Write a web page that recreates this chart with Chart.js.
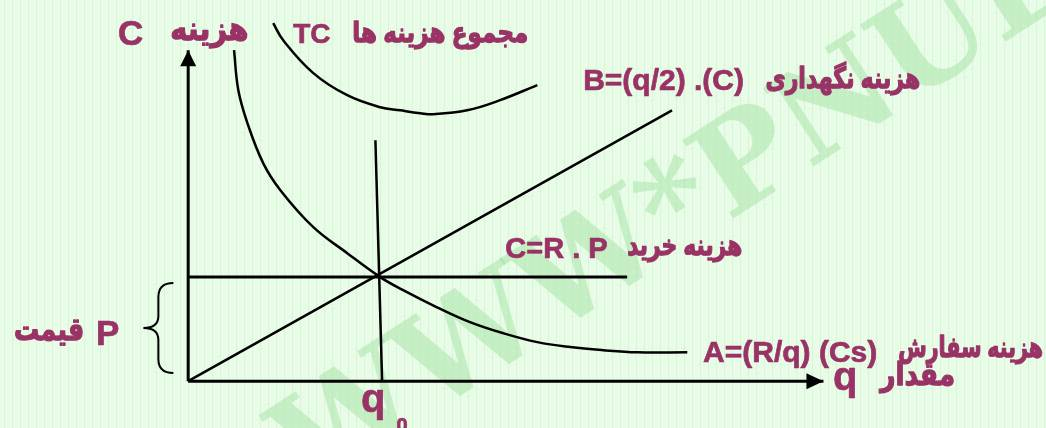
<!DOCTYPE html>
<html>
<head>
<meta charset="utf-8">
<script src="https://cdn.jsdelivr.net/npm/chart.js@4.4.0/dist/chart.umd.min.js"></script>
<style>
  html, body { margin: 0; padding: 0; background: #e8fce8; }
  #costChart { display: block; }
</style>
</head>
<body>
<canvas id="costChart" width="1046" height="428"></canvas>
<script>
// ordering cost A = (R/q)(Cs)
const orderQ = [0.96, 1.05, 1.24, 1.57, 1.93, 2.62, 3.33, 4.02, 4.5, 5.21, 5.9, 6.6, 7.31, 8.0, 8.69, 9.4, 10.45];
const orderCost = [12.72, 11.18, 9.92, 8.38, 7.34, 5.92, 4.92, 4.0, 3.5, 2.84, 2.27, 1.84, 1.5, 1.31, 1.19, 1.11, 1.11];

// total cost TC
const totalQ = [1.78, 1.99, 2.62, 3.33, 4.02, 4.44, 4.86, 5.13, 5.84, 6.53, 7.31];
const totalCost = [13.76, 13.1, 11.84, 10.99, 10.53, 10.41, 10.3, 10.26, 10.41, 10.8, 11.38];

// holding cost B = (q/2)(C)
const holdQ = [0, 10.13];
const holdCost = [0, 10.41];

// purchase cost C = R . P
const purchaseQ = [0, 9.19];
const purchaseCost = [4, 4];

// optimal quantity q0
const optimalQ = [3.92, 4.06];
const optimalCost = [9.26, 0];

// axes
const costAxisQ = [0, 0];
const costAxisValues = [0, 12.72];
const qAxisQ = [0, 13.3];
const qAxisValues = [0, 0];

// price brace P (from top to bottom)
const priceBrace = [3.77, 0.31];

var textColor = "#993366";
var fontStack = "'Liberation Sans', Arial, 'DejaVu Sans', sans-serif";

var labels = [
  { text: "C", x: -1.47, y: 12.91, size: 35, align: "left" },
  { text: "هزینه", x: 1.26, y: 13.11, size: 33, align: "right", width: 78 },
  { text: "TC", x: 2.2, y: 12.99, size: 28, align: "left" },
  { text: "مجموع هزینه ها", x: 7.12, y: 13.03, size: 28, align: "right", width: 176 },
  { text: "B=(q/2) .(C)", x: 8.27, y: 11.18, size: 30, align: "left" },
  { text: "هزینه نگهداری", x: 15.33, y: 11.26, size: 29, align: "right", width: 155 },
  { text: "C=R . P", x: 6.64, y: 4.73, size: 29, align: "left" },
  { text: "هزینه خرید", x: 11.6, y: 4.84, size: 29, align: "right", width: 115 },
  { text: "A=(R/q) (Cs)", x: 10.78, y: 0.73, size: 30, align: "left" },
  { text: "هزینه سفارش", x: 17.9, y: 0.92, size: 29, align: "right", width: 145 },
  { text: "q", x: 13.5, y: -0.35, size: 40, align: "left" },
  { text: "مقدار", x: 16.06, y: -0.15, size: 31, align: "right", width: 75 },
  { text: "q", x: 3.62, y: -1.19, size: 40, align: "left" },
  { text: "0", x: 4.36, y: -1.96, size: 20, align: "left" },
  { text: "P", x: -1.93, y: 1.38, size: 35, align: "left" },
  { text: "قیمت", x: -2.18, y: 1.58, size: 31, align: "right", width: 70 },
];

function toPoints(xs, ys) {
  return xs.map(function (x, i) {
    return { x: x, y: ys[i] };
  });
}

function lineSet(xs, ys, width, smooth) {
  return {
    data: toPoints(xs, ys),
    showLine: true,
    borderColor: "#000000",
    borderWidth: width,
    pointRadius: 0,
    fill: false,
    tension: smooth ? 0.4 : 0,
  };
}

var backgroundPlugin = {
  id: "paper",
  beforeDraw: function (chart) {
    var ctx = chart.ctx;
    var w = chart.width;
    var h = chart.height;
    ctx.save();
    ctx.fillStyle = "#e8fce8";
    ctx.fillRect(0, 0, w, h);
    ctx.lineWidth = 1;
    ctx.strokeStyle = "rgba(190, 238, 190, 0.4)";
    for (var gx = 4.5; gx < w; gx += 8) {
      ctx.beginPath();
      ctx.moveTo(gx, 0);
      ctx.lineTo(gx, h);
      ctx.stroke();
    }
    ctx.strokeStyle = "rgba(205, 242, 205, 0.15)";
    for (var gy = 4.5; gy < h; gy += 8) {
      ctx.beginPath();
      ctx.moveTo(0, gy);
      ctx.lineTo(w, gy);
      ctx.stroke();
    }
    // watermark along the diagonal, asterisk kept where it sits in the original
    ctx.font = "bold 128px 'DejaVu Serif', 'Liberation Serif', serif";
    var lead = ctx.measureText("WWW").width + ctx.measureText("*").width / 2;
    ctx.translate(682, 212);
    ctx.rotate(-33 * Math.PI / 180);
    ctx.textAlign = "left";
    ctx.textBaseline = "middle";
    ctx.fillStyle = "rgba(150, 222, 150, 0.42)";
    ctx.fillText("WWW*PNUEB", -lead, 0);
    ctx.restore();
  },
};

var notesPlugin = {
  id: "notes",
  afterDatasetsDraw: function (chart) {
    var ctx = chart.ctx;
    var xs = chart.scales.x;
    var ys = chart.scales.y;
    ctx.save();

    // arrow heads
    ctx.fillStyle = "#000000";
    var tx = xs.getPixelForValue(costAxisQ[1]);
    var ty = ys.getPixelForValue(costAxisValues[1]);
    ctx.beginPath();
    ctx.moveTo(tx, ty);
    ctx.lineTo(tx - 8, ty + 16);
    ctx.lineTo(tx + 8, ty + 16);
    ctx.closePath();
    ctx.fill();

    var ax = xs.getPixelForValue(qAxisQ[1]);
    var ay = ys.getPixelForValue(qAxisValues[1]);
    ctx.beginPath();
    ctx.moveTo(ax, ay);
    ctx.lineTo(ax - 17, ay - 8);
    ctx.lineTo(ax - 17, ay + 8);
    ctx.closePath();
    ctx.fill();

    // curly brace for price
    var top = ys.getPixelForValue(priceBrace[0]);
    var bottom = ys.getPixelForValue(priceBrace[1]);
    var mid = (top + bottom) / 2;
    var r = xs.getPixelForValue(-0.31);
    var m = r - 15;
    var l = r - 30;
    ctx.strokeStyle = "#000000";
    ctx.lineWidth = 2;
    ctx.beginPath();
    ctx.moveTo(r, top);
    ctx.quadraticCurveTo(m, top, m, top + 14);
    ctx.lineTo(m, mid - 12);
    ctx.quadraticCurveTo(m, mid, l, mid);
    ctx.quadraticCurveTo(m, mid, m, mid + 12);
    ctx.lineTo(m, bottom - 14);
    ctx.quadraticCurveTo(m, bottom, r, bottom);
    ctx.stroke();

    // texts, stroked a little to look as heavy as the original
    ctx.fillStyle = textColor;
    ctx.strokeStyle = textColor;
    ctx.lineJoin = "round";
    ctx.textBaseline = "alphabetic";
    labels.forEach(function (lb) {
      ctx.font = "bold " + lb.size + "px " + fontStack;
      ctx.textAlign = lb.align;
      ctx.lineWidth = lb.width ? 1.3 : 0.7;
      var px = xs.getPixelForValue(lb.x);
      var py = ys.getPixelForValue(lb.y);
      if (lb.width) {
        ctx.fillText(lb.text, px, py, lb.width);
        ctx.strokeText(lb.text, px, py, lb.width);
      } else {
        ctx.fillText(lb.text, px, py);
        ctx.strokeText(lb.text, px, py);
      }
    });
    ctx.restore();
  },
};

new Chart(document.getElementById("costChart"), {
  type: "scatter",
  data: {
    datasets: [
      lineSet(costAxisQ, costAxisValues, 3, false),
      lineSet(qAxisQ, qAxisValues, 3, false),
      lineSet(purchaseQ, purchaseCost, 3, false),
      lineSet(holdQ, holdCost, 2.5, false),
      lineSet(optimalQ, optimalCost, 2.5, false),
      lineSet(orderQ, orderCost, 2.5, true),
      lineSet(totalQ, totalCost, 2.5, true),
    ],
  },
  options: {
    responsive: false,
    animation: false,
    events: [],
    layout: { padding: 0 },
    plugins: {
      legend: { display: false },
      tooltip: { enabled: false },
    },
    scales: {
      x: { type: "linear", min: -3.94, max: 17.96, display: false },
      y: { type: "linear", min: -1.8, max: 14.65, display: false },
    },
  },
  plugins: [backgroundPlugin, notesPlugin],
});
</script>
</body>
</html>
